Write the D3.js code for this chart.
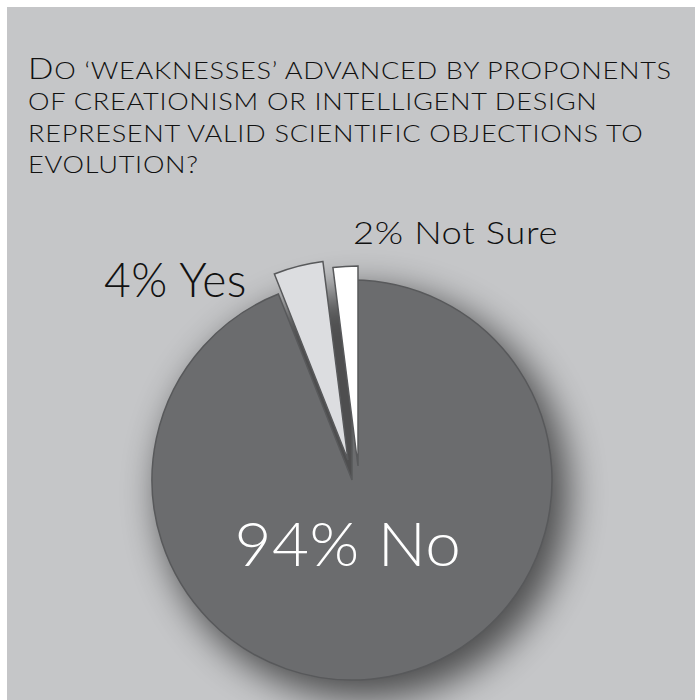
<!DOCTYPE html>
<html><head><meta charset="utf-8">
<script src="https://cdn.jsdelivr.net/npm/d3@7"></script>
<style>body{margin:0;background:#fff}svg{display:block}</style>
</head><body>
<script>
// ---- data ----
const titleLines = [
  "Do \u2018weaknesses\u2019 advanced by proponents",
  "of creationism or intelligent design",
  "represent valid scientific objections to",
  "evolution?"
];
const categories = ["No", "Yes", "Not Sure"];
const values = [94, 4, 2];
const labels = ["94% No", "4% Yes", "2% Not Sure"];

// ---- layout / style ----
const W = 695, H = 700;
const cx = 352, cy = 480, R = 200;
const sliceOffsets = [[0, 0], [-4, -20], [6, -14]];
const fills = ["#6b6c6e", "#dcdde0", "#ffffff"];
const font = "Lato, 'Open Sans', sans-serif";
const fw = 300;

const svg = d3.select("body").append("svg").attr("width", W).attr("height", H);
const defs = svg.append("defs");
defs.append("filter").attr("id", "blur").attr("x", "-50%").attr("y", "-50%")
  .attr("width", "200%").attr("height", "200%")
  .append("feGaussianBlur").attr("stdDeviation", 18);

svg.append("rect").attr("width", W).attr("height", H).attr("fill", "#ffffff");
svg.append("rect").attr("x", 7).attr("y", 7).attr("width", W - 7).attr("height", H - 7).attr("fill", "#c5c6c8");

// title with small caps
const bigSize = 29, smallSize = 23.5;
const title = svg.append("g").attr("font-family", font).attr("font-weight", fw).attr("fill", "#111");
const tnodes = titleLines.map((line, i) => {
  const t = title.append("text").attr("x", 0).attr("y", 0)
    .attr("letter-spacing", 0.6)
    .attr("transform", `translate(28,${79 + i * 31.3})`);
  let runs = [];
  for (const ch of line) {
    const up = ch !== ch.toLowerCase() && ch === ch.toUpperCase();
    const kind = ch === " " ? (runs.length ? runs[runs.length - 1].up : false) : up;
    if (runs.length && runs[runs.length - 1].up === kind) runs[runs.length - 1].s += ch;
    else runs.push({ up: kind, s: ch });
  }
  runs.forEach(r => t.append("tspan").attr("font-size", r.up ? bigSize : smallSize).text(r.s.toUpperCase()));
  return t;
});
const k1 = 644 / tnodes[0].node().getComputedTextLength();
tnodes.forEach((t, i) => t.attr("transform", `translate(28,${79 + i * 31.3}) scale(${k1},1)`));

// pie
const pie = d3.pie().sort(null).value(d => d)(values);
const arc = d3.arc().innerRadius(0).outerRadius(R);

svg.append("circle").attr("cx", cx + 12).attr("cy", cy + 14).attr("r", R + 5)
  .attr("fill", "#000").attr("opacity", 0.6).attr("filter", "url(#blur)");

svg.selectAll("path.slice").data(pie).join("path")
  .attr("class", "slice")
  .attr("transform", (d, i) => `translate(${cx + sliceOffsets[i][0]},${cy + sliceOffsets[i][1]})`)
  .attr("d", arc)
  .attr("fill", (d, i) => fills[i])
  .attr("stroke", "#58595b")
  .attr("stroke-width", 1.5)
  .attr("stroke-linejoin", "miter");

// labels
function label(txt, x, y, anchor, size, fill, width) {
  const t = svg.append("text").attr("x", 0).attr("y", 0).attr("text-anchor", anchor)
    .attr("font-family", font).attr("font-weight", fw).attr("font-size", size)
    .attr("letter-spacing", 0.5).attr("fill", fill).text(txt);
  const k = width / t.node().getComputedTextLength();
  t.attr("transform", `translate(${x},${y}) scale(${k},1)`);
  return t;
}
label(labels[0], cx - 4, 566, "middle", 61, "#fff", 227);
label(labels[1], 247, 297, "end", 47, "#111", 143);
label(labels[2], 353, 244, "start", 31.5, "#111", 205);
</script>
</body></html>
